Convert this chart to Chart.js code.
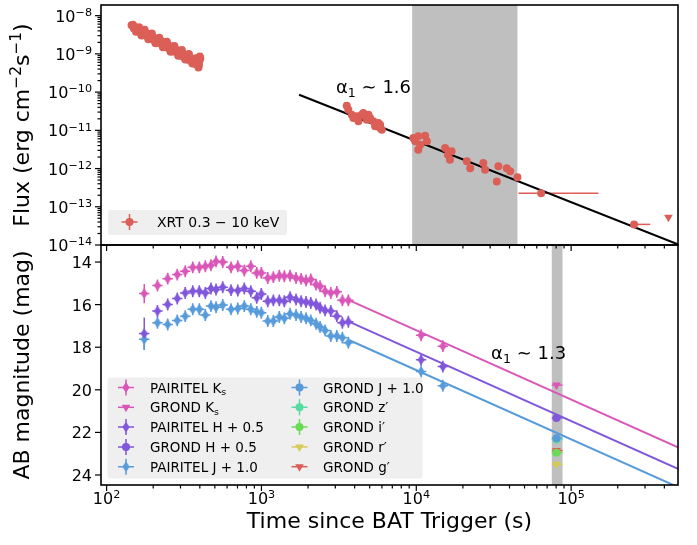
<!DOCTYPE html>
<html>
<head>
<meta charset="utf-8">
<script src="https://cdn.jsdelivr.net/npm/chart.js@4/dist/chart.umd.min.js"></script>
<style>
  html, body { margin: 0; background: #fff; }
</style>
</head>
<body>
<canvas id="lightcurve" width="697" height="545"></canvas>
<script>
// X-ray light curve (Swift/XRT 0.3-10 keV), erg cm^-2 s^-1
const xrtTime = [
  145, 150, 153, 157, 160, 165, 170, 174, 178, 183, 188, 193, 198, 204, 210, 216, 222, 228, 235, 242,
  249, 256, 263, 270, 278, 286, 294, 302, 310, 318, 327, 336, 345, 355, 365, 375, 385, 392, 395, 398, 400,
  148, 155, 162, 168, 176, 186, 196, 207, 219, 231, 245, 259, 274, 290, 306, 322, 340, 358, 377, 390, 403,
  3556, 3640, 3830, 3925, 4130, 4230, 4450, 4550, 4670, 4790, 4910, 5030, 5280, 5420, 5690, 5840, 5990, 5840,
  9570, 10300, 11400, 11700, 10600, 10300, 9840,
  15350, 16000, 16900, 16500, 21200, 22300, 27100, 27800, 33900, 33100, 38400, 40400, 45000
];
const xrtFlux = [
  5.6e-9, 4.6e-9, 5.0e-9, 4.0e-9, 4.5e-9, 3.6e-9, 3.9e-9, 3.2e-9, 3.6e-9, 2.9e-9, 3.2e-9, 2.5e-9, 2.8e-9, 2.2e-9, 2.5e-9, 1.95e-9, 2.25e-9, 1.75e-9, 2.0e-9, 1.5e-9,
  1.75e-9, 1.3e-9, 1.55e-9, 1.15e-9, 1.35e-9, 1.05e-9, 1.2e-9, 9.0e-10, 1.05e-9, 8.0e-10, 9.2e-10, 7.0e-10, 8.2e-10, 6.2e-10, 7.4e-10, 5.4e-10, 6.6e-10, 4.4e-10, 5.2e-10, 6.8e-10, 8.6e-10,
  5.8e-9, 3.8e-9, 5.0e-9, 3.04e-9, 4.3e-9, 2.4e-9, 3.4e-9, 1.9e-9, 2.66e-9, 1.49e-9, 2.07e-9, 1.13e-9, 1.61e-9, 8.9e-10, 1.26e-9, 7.1e-10, 9.9e-10, 5.6e-10, 7.7e-10, 5.2e-10, 7.6e-10,
  4.41e-11, 3.46e-11, 2.56e-11, 2.10e-11, 2.32e-11, 1.72e-11, 2.56e-11, 2.84e-11, 2.32e-11, 1.89e-11, 2.56e-11, 2.10e-11, 1.72e-11, 1.27e-11, 1.55e-11, 1.40e-11, 1.04e-11, 1.15e-11,
  6.3e-12, 7.0e-12, 7.2e-12, 5.2e-12, 4.2e-12, 3.1e-12, 5.2e-12,
  3.44e-12, 2.30e-12, 2.82e-12, 1.70e-12, 1.55e-12, 1.02e-12, 1.39e-12, 9.3e-13, 1.15e-12, 4.6e-13, 1.02e-12, 8.5e-13, 5.9e-13
];
// late wide time bins and the final upper limit
const xrtBinTime = [64000, 255000];
const xrtBinFlux = [2.26e-13, 3.46e-14];
const xrtBinLo = [45700, 240000];
const xrtBinHi = [150000, 324000];
const xrtLimitTime = [425000];
const xrtLimitFlux = [5.3e-14];

// power-law decay F = F0 (t / t0)^-alpha
const xrtSlope = 1.6;
const xrtFitT0 = 1e4;
const xrtFitF0 = 5.25e-12;
const xrtFitT = [1750, 4.9e5];
const xrtBand = [9.4e3, 4.5e4];

// PAIRITEL near-IR photometry (AB mag, before offsets)
const pairitelTime = [
  175, 213, 248, 286, 322, 360, 397, 434, 472, 509, 562, 636, 703, 775, 853, 932, 998, 1098, 1194, 1305,
  1406, 1530, 1673, 1803, 1941, 2082, 2253, 2391, 2576, 2804, 3065, 3332, 3642, 10740, 14840
];
const pairitelKs = [
  15.48, 15.10, 14.78, 14.59, 14.43, 14.25, 14.25, 14.20, 14.15, 13.97, 14.00, 14.25, 14.20, 14.40, 14.20, 14.51, 14.51, 14.75, 14.71, 14.64,
  14.67, 14.64, 14.75, 14.79, 14.87, 14.82, 15.06, 15.14, 15.37, 15.45, 15.40, 15.80, 15.80, 17.44, 17.95
];
const pairitelH = [
  16.86, 15.80, 15.49, 15.21, 14.95, 14.87, 14.87, 14.95, 14.74, 14.79, 14.68, 14.82, 14.84, 14.74, 14.87, 15.18, 15.00, 15.34, 15.30, 15.30,
  15.34, 15.15, 15.26, 15.34, 15.38, 15.42, 15.49, 15.65, 15.77, 15.80, 16.04, 16.35, 16.30, 18.09, 18.41
];
const pairitelJ = [
  16.63, 15.85, 15.93, 15.74, 15.54, 15.22, 15.22, 15.49, 15.07, 15.12, 15.02, 15.22, 15.18, 15.07, 15.22, 15.34, 15.38, 15.77, 15.77, 15.58,
  15.64, 15.43, 15.49, 15.58, 15.64, 15.74, 15.90, 16.05, 16.21, 16.47, 16.47, 16.55, 16.79, 18.14, 18.81
];
const pairitelErr = 0.28;
const pairitelFirstErr = [0.45, 0.75, 0.5];   // Ks, H, J
const pairitelDt = 0.08;                      // fractional half-width of the exposures
const hShift = 0.5;
const jShift = 1.0;

// GROND single epoch
const grondTime = 80400;
const grondBand = [7.5e4, 8.8e4];
const grondFilter = ['K', 'H', 'J', 'z′', 'i′', 'r′', 'g′'];
const grondMag = [19.78, 20.82, 21.27, 22.33, 22.95, 23.50, 22.85];
const grondLimit = [true, false, false, false, false, true, true];

// optical decay m = m0 + 2.5 alpha log10(t / t0)
const optSlope = 1.3;
const optFitT0 = 3800;
const optFitMag0 = [15.84, 16.35, 16.71];     // Ks, H, J
const optFitT = [3700, 4.9e5];

// axis ticks
const timeTicks = [1e2, 1e3, 1e4, 1e5];
const fluxTicks = [1e-8, 1e-9, 1e-10, 1e-11, 1e-12, 1e-13, 1e-14];
const magTicks = [14, 16, 18, 20, 22, 24];

const FONT = '"DejaVu Sans", sans-serif';
const colKs = '#d957b8', colH = '#8056db', colJ = '#579bdb';
const grondColor = [colKs, colH, colJ, '#57dba0', '#6bdb57', '#d6c956', '#db5f57'];
const grondShift = [0, hShift, jShift, 0, 0, 0, 0];
const grondOrder = [1, 1, 1, 2, 1, 1, 3];
const xrtColor = '#db5f57';
const bandColor = '#bfbfbf';

const pts = (xs, ys) => xs.map((x, i) => ({ x, y: ys[i] }));

const diamonds = {};
function diamondImage(color) {
  if (diamonds[color]) return diamonds[color];
  const c = document.createElement('canvas');
  c.width = 8; c.height = 11;
  const g = c.getContext('2d');
  g.fillStyle = color;
  g.beginPath();
  g.moveTo(4, 0.3); g.lineTo(7.7, 5.5); g.lineTo(4, 10.7); g.lineTo(0.3, 5.5);
  g.closePath(); g.fill();
  return (diamonds[color] = c);
}

function setFont(ctx, size) { ctx.font = size + 'px ' + FONT; }

// text with sub/superscript pieces: [[text, ''|'sub'|'sup'], ...]
function richWidth(ctx, parts, size) {
  return parts.reduce((w, [t, k]) => { setFont(ctx, k ? size * 0.7 : size); return w + ctx.measureText(t).width; }, 0);
}
function drawRich(ctx, parts, x, y, size, align) {
  const w = richWidth(ctx, parts, size);
  let cx = align === 'center' ? x - w / 2 : align === 'right' ? x - w : x;
  ctx.textAlign = 'left';
  ctx.textBaseline = 'alphabetic';
  for (const [t, k] of parts) {
    setFont(ctx, k ? size * 0.7 : size);
    const dy = k === 'sup' ? -0.36 * size : k === 'sub' ? 0.22 * size : 0;
    ctx.fillText(t, cx, y + dy);
    cx += ctx.measureText(t).width;
  }
}
function powLabel(v) {
  const e = Math.round(Math.log10(v));
  return [['10', ''], [(e < 0 ? '−' : '') + Math.abs(e), 'sup']];
}
function logSteps(min, max) {
  const out = [];
  for (let e = Math.floor(Math.log10(min)); e <= Math.ceil(Math.log10(max)); e++) {
    for (let m = 1; m <= 9; m++) {
      const v = m * Math.pow(10, e);
      if (v >= min * 0.999 && v <= max * 1.001) out.push([v, m === 1]);
    }
  }
  return out;
}

function pairitelSet(mags, shift, firstErr, color, parts) {
  const y = mags.map(m => m + shift);
  return {
    data: pts(pairitelTime, y),
    xErr: pairitelTime.map(t => [t / (1 + pairitelDt), t * (1 + pairitelDt)]),
    yErr: y.map((m, i) => { const e = i === 0 ? firstErr : pairitelErr; return [m - e, m + e]; }),
    yAxisID: 'y', pointStyle: diamondImage(color), pointRadius: 4,
    borderColor: color, backgroundColor: color,
    marker: 'diamond', legendParts: parts
  };
}
function grondSet(i) {
  const color = grondColor[i];
  const label = [['GROND ' + grondFilter[i], '']];
  if (i === 0) label.push(['s', 'sub']);
  if (grondShift[i]) label.push([' + ' + grondShift[i].toFixed(1), '']);
  return {
    data: [{ x: grondTime, y: grondMag[i] + grondShift[i] }],
    xErr: [grondBand],
    yAxisID: 'y', order: grondOrder[i],
    pointStyle: grondLimit[i] ? 'triangle' : 'circle',
    rotation: grondLimit[i] ? 180 : 0,
    pointRadius: grondLimit[i] ? 5 : 4, borderWidth: 0,
    borderColor: color, backgroundColor: color,
    marker: grondLimit[i] ? 'limit' : 'circle', legendParts: label
  };
}
function opticalFit(m0, color) {
  return {
    data: optFitT.map(t => ({ x: t, y: m0 + 2.5 * optSlope * Math.log10(t / optFitT0) })),
    yAxisID: 'y', showLine: true, pointRadius: 0, borderColor: color, borderWidth: 2, order: 5
  };
}

const datasets = [
  pairitelSet(pairitelKs, 0, pairitelFirstErr[0], colKs, [['PAIRITEL K', ''], ['s', 'sub']]),
  grondSet(0),
  pairitelSet(pairitelH, hShift, pairitelFirstErr[1], colH, [['PAIRITEL H + 0.5', '']]),
  grondSet(1),
  pairitelSet(pairitelJ, jShift, pairitelFirstErr[2], colJ, [['PAIRITEL J + 1.0', '']]),
  grondSet(2), grondSet(3), grondSet(4), grondSet(5), grondSet(6),
  // X-ray panel
  { data: pts(xrtTime, xrtFlux), yAxisID: 'yTop', pointRadius: 4, borderWidth: 0,
    backgroundColor: xrtColor, borderColor: xrtColor },
  { data: pts(xrtBinTime, xrtBinFlux), xErr: xrtBinLo.map((lo, i) => [lo, xrtBinHi[i]]),
    yAxisID: 'yTop', pointRadius: 4, borderWidth: 0, backgroundColor: xrtColor, borderColor: xrtColor },
  { data: pts(xrtLimitTime, xrtLimitFlux), yAxisID: 'yTop', pointStyle: 'triangle', rotation: 180,
    pointRadius: 5, borderWidth: 0, backgroundColor: xrtColor, borderColor: xrtColor },
  { data: xrtFitT.map(t => ({ x: t, y: xrtFitF0 * Math.pow(t / xrtFitT0, -xrtSlope) })),
    yAxisID: 'yTop', showLine: true, pointRadius: 0, borderColor: '#000', borderWidth: 2, order: 5 },
  opticalFit(optFitMag0[0], colKs),
  opticalFit(optFitMag0[1] + hShift, colH),
  opticalFit(optFitMag0[2] + jShift, colJ)
];

// grey shaded epochs
const bands = {
  id: 'bands',
  beforeDatasetsDraw(chart) {
    const { ctx, scales: { x, yTop, y } } = chart;
    ctx.save();
    ctx.fillStyle = bandColor;
    [[xrtBand, yTop], [grondBand, y]].forEach(([b, ys]) => {
      const x0 = x.getPixelForValue(b[0]), x1 = x.getPixelForValue(b[1]);
      ctx.fillRect(x0, ys.top, x1 - x0, ys.bottom - ys.top);
    });
    ctx.restore();
  }
};

const errorBars = {
  id: 'errorBars',
  beforeDatasetsDraw(chart) {
    const { ctx } = chart;
    chart.data.datasets.forEach((ds, i) => {
      if (!ds.xErr && !ds.yErr) return;
      const meta = chart.getDatasetMeta(i);
      const xs = chart.scales[meta.xAxisID], ys = chart.scales[meta.yAxisID];
      ctx.save();
      ctx.strokeStyle = ds.borderColor;
      ctx.lineWidth = 1.5;
      ds.data.forEach((p, j) => {
        const px = xs.getPixelForValue(p.x), py = ys.getPixelForValue(p.y);
        ctx.beginPath();
        if (ds.xErr && ds.xErr[j]) {
          ctx.moveTo(xs.getPixelForValue(ds.xErr[j][0]), py);
          ctx.lineTo(xs.getPixelForValue(ds.xErr[j][1]), py);
        }
        if (ds.yErr && ds.yErr[j]) {
          ctx.moveTo(px, ys.getPixelForValue(ds.yErr[j][0]));
          ctx.lineTo(px, ys.getPixelForValue(ds.yErr[j][1]));
        }
        ctx.stroke();
      });
      ctx.restore();
    });
  }
};

// frames, ticks, tick labels, axis titles and the slope notes
const panelAxes = {
  id: 'panelAxes',
  afterDatasetsDraw(chart) {
    const { ctx, scales: { x, yTop, y } } = chart;
    ctx.save();
    ctx.strokeStyle = '#000';
    ctx.fillStyle = '#000';
    const line = (x1, y1, x2, y2) => { ctx.beginPath(); ctx.moveTo(x1, y1); ctx.lineTo(x2, y2); ctx.stroke(); };

    ctx.lineWidth = 1.2;
    logSteps(x.min, x.max).forEach(([v, major]) => {
      const px = x.getPixelForValue(v), len = major ? 6 : 3.5;
      line(px, yTop.bottom, px, yTop.bottom + len);
      line(px, y.bottom, px, y.bottom + len);
    });
    logSteps(yTop.min, yTop.max).forEach(([v, major]) => {
      const py = yTop.getPixelForValue(v);
      line(x.left, py, x.left - (major ? 6 : 3.5), py);
    });
    magTicks.forEach(v => { const py = y.getPixelForValue(v); line(x.left, py, x.left - 6, py); });

    ctx.lineWidth = 1.6;
    ctx.strokeRect(x.left, yTop.top, x.right - x.left, yTop.bottom - yTop.top);
    ctx.strokeRect(x.left, y.top, x.right - x.left, y.bottom - y.top);

    timeTicks.forEach(v => drawRich(ctx, powLabel(v), x.getPixelForValue(v), 504, 16, 'center'));
    fluxTicks.forEach(v => drawRich(ctx, powLabel(v), x.left - 9, yTop.getPixelForValue(v) + 6, 16, 'right'));
    magTicks.forEach(v => drawRich(ctx, [[String(v), '']], x.left - 9, y.getPixelForValue(v) + 6, 16, 'right'));

    drawRich(ctx, [['Time since BAT Trigger (s)', '']], (x.left + x.right) / 2, 528, 22, 'center');
    const vTitle = (parts, cy) => {
      ctx.save(); ctx.translate(29, cy); ctx.rotate(-Math.PI / 2);
      drawRich(ctx, parts, 0, 0, 22, 'center'); ctx.restore();
    };
    vTitle([['Flux (erg cm', ''], ['−2', 'sup'], ['s', ''], ['−1', 'sup'], [')', '']], (yTop.top + yTop.bottom) / 2);
    vTitle([['AB magnitude (mag)', '']], (y.top + y.bottom) / 2);

    drawRich(ctx, [['α', ''], ['1', 'sub'], [' ∼ ' + xrtSlope.toFixed(1), '']],
      x.getPixelForValue(3030), yTop.getPixelForValue(9.7e-11), 18, 'left');
    drawRich(ctx, [['α', ''], ['1', 'sub'], [' ∼ ' + optSlope.toFixed(1), '']],
      x.getPixelForValue(30400), y.getPixelForValue(18.56), 18, 'left');
    ctx.restore();
  }
};

function drawMarker(ctx, kind, color, x, y) {
  ctx.strokeStyle = color;
  ctx.fillStyle = color;
  ctx.lineWidth = 1.5;
  ctx.beginPath();
  ctx.moveTo(x - 8, y); ctx.lineTo(x + 8, y);
  if (kind !== 'limit') { ctx.moveTo(x, y - 8); ctx.lineTo(x, y + 8); }
  ctx.stroke();
  ctx.beginPath();
  if (kind === 'diamond') {
    const img = diamondImage(color);
    ctx.drawImage(img, x - img.width / 2, y - img.height / 2);
    return;
  } else if (kind === 'limit') {
    ctx.moveTo(x - 4.3, y - 2.5); ctx.lineTo(x + 4.3, y - 2.5); ctx.lineTo(x, y + 5); ctx.closePath();
  } else {
    ctx.arc(x, y, 4, 0, Math.PI * 2);
  }
  ctx.fill();
}
function legendBox(ctx, x, y, w, h) {
  ctx.fillStyle = '#efefef';
  ctx.beginPath();
  ctx.roundRect(x, y, w, h, 2);
  ctx.fill();
}

const legends = {
  id: 'legends',
  afterDraw(chart) {
    const { ctx } = chart;
    ctx.save();
    legendBox(ctx, 108, 210, 179, 25);
    drawMarker(ctx, 'circle', xrtColor, 129.5, 222);
    ctx.fillStyle = '#000';
    drawRich(ctx, [['XRT 0.3 − 10 keV', '']], 157, 227, 14, 'left');

    legendBox(ctx, 107.5, 377.5, 315, 101);
    chart.data.datasets.filter(d => d.legendParts).forEach((d, i) => {
      const col = Math.floor(i / 5), row = i % 5;
      const mx = col ? 299.5 : 126, tx = col ? 323 : 150, yy = 387.5 + row * 19.8;
      drawMarker(ctx, d.marker, d.borderColor, mx, yy);
      ctx.fillStyle = '#000';
      drawRich(ctx, d.legendParts, tx, yy + 5, 13.5, 'left');
    });
    ctx.restore();
  }
};

const hidden = { display: true, grid: { display: false, drawTicks: false }, ticks: { display: false }, border: { display: false } };

new Chart(document.getElementById('lightcurve'), {
  type: 'scatter',
  data: { datasets },
  options: {
    responsive: false,
    animation: false,
    events: [],
    layout: { padding: { left: 101, right: 19, top: 2, bottom: 60 } },
    plugins: { legend: { display: false }, tooltip: { enabled: false } },
    scales: {
      x: { ...hidden, type: 'logarithmic', min: 92, max: 4.9e5 },
      y: { ...hidden, type: 'linear', position: 'left', stack: 'panels', stackWeight: 1, weight: 0,
           reverse: true, min: 13.2, max: 24.47 },
      yTop: { ...hidden, type: 'logarithmic', position: 'left', stack: 'panels', stackWeight: 1, weight: 1,
              min: 1e-14, max: 1.9e-8 }
    }
  },
  plugins: [bands, errorBars, panelAxes, legends]
});
</script>
</body>
</html>
